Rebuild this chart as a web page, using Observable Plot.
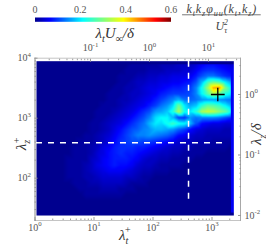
<!DOCTYPE html>
<html><head><meta charset="utf-8">
<script src="https://cdn.jsdelivr.net/npm/d3@7"></script>
<script src="https://cdn.jsdelivr.net/npm/@observablehq/plot@0.6"></script>
<style>html,body{margin:0;padding:0;background:#fff;width:266px;height:248px;overflow:hidden}
#c{position:relative;width:266px;height:248px}#c svg{position:absolute;left:0;top:0;background:transparent;overflow:visible}</style>
</head><body><div id="c"></div>
<script>
// energy map, hundredths, top row first, log-spaced columns
const gridCols = 34;
const r00=[0,0,0,0,0,0,0,0,0,0,0,0,0,0,0,0,1,1,1,1,1,2,2,2,3,3,3,4,6,7,7,6,5,4];
const r01=[0,0,0,0,0,0,0,0,0,0,0,0,0,0,0,1,1,1,1,2,2,2,3,3,3,4,4,6,8,9,9,8,7,6];
const r02=[0,0,0,0,0,0,0,0,0,0,0,0,0,0,1,1,1,2,2,3,3,4,4,5,5,5,6,8,11,13,13,11,9,8];
const r03=[0,0,0,0,0,0,0,0,0,0,0,0,0,0,1,1,2,3,3,4,4,5,5,6,6,7,8,11,17,25,28,26,20,16];
const r04=[0,0,0,0,0,0,0,0,0,0,0,0,0,1,1,2,2,3,4,5,5,6,7,8,8,9,10,14,22,32,44,45,30,22];
const r05=[0,0,0,0,0,0,0,0,0,0,0,0,1,1,1,2,3,3,4,5,6,8,9,10,10,10,11,14,21,27,33,28,23,20];
const r06=[0,0,0,0,0,0,0,0,0,0,0,0,1,1,2,2,3,4,5,6,8,10,12,14,17,13,12,13,15,16,16,15,14,13];
const r07=[0,0,0,0,0,0,0,0,0,0,0,1,1,1,2,3,4,5,6,8,10,13,15,19,29,20,16,18,24,28,27,25,21,17];
const r08=[0,0,0,0,0,0,0,0,0,0,1,1,1,2,3,4,5,7,9,11,15,16,18,23,33,22,20,24,33,35,34,31,28,22];
const r09=[0,0,0,0,0,0,0,0,0,0,1,1,2,3,4,5,7,9,11,14,19,21,21,17,10,9,15,13,14,14,14,13,11,9];
const r10=[0,0,0,0,0,0,0,0,0,1,1,2,3,4,5,7,9,11,13,17,20,19,22,25,22,21,17,11,7,6,5,5,4,4];
const r11=[0,0,0,0,0,0,0,0,0,1,1,2,3,5,7,9,11,12,14,15,17,17,16,15,12,10,7,5,4,3,3,3,2,2];
const r12=[0,0,0,0,0,0,0,0,1,1,2,3,4,6,8,10,12,14,14,15,14,13,12,10,7,6,4,3,3,2,2,2,2,2];
const r13=[0,0,0,0,0,0,0,1,1,1,2,3,5,7,9,10,11,11,10,10,9,8,7,6,4,3,3,2,2,2,1,1,1,1];
const r14=[0,0,0,0,0,0,1,1,1,2,3,5,6,8,9,9,9,8,8,7,6,5,4,3,3,2,2,1,1,1,1,1,1,0];
const r15=[0,0,0,0,0,0,1,1,1,2,4,5,7,8,9,8,8,7,6,5,4,3,3,2,2,1,1,1,1,0,0,0,0,0];
const r16=[0,0,0,0,0,1,1,1,1,3,4,6,7,8,8,8,7,6,4,3,3,2,2,1,1,1,1,0,0,0,0,0,0,0];
const r17=[0,0,0,0,0,1,1,1,2,3,5,6,7,8,7,7,6,4,3,3,2,1,1,1,1,0,0,0,0,0,0,0,0,0];
const r18=[0,0,0,0,0,1,1,1,2,3,4,5,6,6,6,5,4,3,2,2,1,1,1,0,0,0,0,0,0,0,0,0,0,0];
const r19=[0,0,0,0,0,1,1,1,2,2,3,4,4,4,4,3,3,2,1,1,0,0,0,0,0,0,0,0,0,0,0,0,0,0];
const r20=[0,0,0,0,0,0,1,1,1,2,2,3,3,3,3,2,1,1,1,0,0,0,0,0,0,0,0,0,0,0,0,0,0,0];
const r21=[0,0,0,0,0,0,0,1,1,1,1,2,2,2,1,1,1,0,0,0,0,0,0,0,0,0,0,0,0,0,0,0,0,0];
const r22=[0,0,0,0,0,0,0,0,1,1,1,1,1,1,1,0,0,0,0,0,0,0,0,0,0,0,0,0,0,0,0,0,0,0];
const r23=new Array(gridCols).fill(0), r24=r23, r25=r23;
const rows=[r00,r01,r02,r03,r04,r05,r06,r07,r08,r09,r10,r11,r12,r13,r14,r15,r16,r17,r18,r19,r20,r21,r22,r23,r24,r25];

const xMajor=[1,10,100,1000], yMajor=[100,1000,10000];
const xMinor=[2,3,4,5,6,7,8,9,20,30,40,50,60,70,80,90,200,300,400,500,600,700,800,900,2000];
const yMinor=[20,30,40,50,60,70,80,90,200,300,400,500,600,700,800,900,2000,3000,4000,5000,6000,7000,8000,9000];
const topMajor=[0.1,1,10], rightMajor=[0.01,0.1,1];
const topMinor=[0.02,0.03,0.04,0.05,0.06,0.07,0.08,0.09,0.2,0.3,0.4,0.5,0.6,0.7,0.8,0.9,2,3,4,5,6,7,8,9,20,30];
const rightMinor=[0.02,0.03,0.04,0.05,0.06,0.07,0.08,0.09,0.2,0.3,0.4,0.5,0.6,0.7,0.8,0.9,2,3];
const barTicks=[0,0.2,0.4,0.6];
const crossX=400, crossY=390, peak=[{x:1254,y:2483}];
const jetStops=[0,0.066,0.21,0.39,0.534,0.6];
const jetColors=["#00008f","#0000ff","#00ffff","#ffff00","#ff0000","#7f0000"];

const serif="'Liberation Serif','DejaVu Serif',serif", ink="#555", tickInk="#999";
const P=10**3.483, Yb=10**1.295;
const lx0=0.025, lx1=3.37, ly0=3.95, ly1=1.378;
const samples=rows.flatMap((row,j)=>row.map((v,i)=>({
  x:10**(lx0+(i+0.5)/gridCols*(lx1-lx0)),
  y:10**(ly0+(j+0.5)/rows.length*(ly1-ly0)),
  v:v/100})));
const margins={width:266,height:248,marginLeft:34.5,marginRight:26,marginTop:57.7,marginBottom:28};
const color={type:"linear",domain:jetStops,range:jetColors,clamp:true};
const expo=d=>`10^{${Math.round(Math.log10(d))}}`;
const tickStyle={stroke:tickInk,text:null,tickSize:-3,label:null};
const textStyle={tickSize:0,label:null,fontFamily:serif,fontSize:10,color:ink,fill:ink,tickFormat:expo};
const labelStyle={text:d=>d,fontFamily:serif,fontStyle:"italic",fontSize:15,fill:"#333"};

const main=Plot.plot({...margins,style:{background:"transparent"},color,
 x:{type:"log",domain:[1,P],axis:null},y:{type:"log",domain:[Yb,1e4],axis:null},
 marks:[
  Plot.raster(samples,{x:"x",y:"y",fill:"v",x1:10**lx0,x2:10**lx1,y1:10**ly0,y2:10**ly1,interpolate:"barycentric",pixelSize:1}),
  Plot.frame({anchor:"top",stroke:"#c4c4c4"}),Plot.frame({anchor:"bottom",stroke:"#c4c4c4"}),
  Plot.frame({anchor:"left",stroke:"#8a8a8a"}),Plot.frame({anchor:"right",stroke:"#a8a8a8"}),
  Plot.axisX(xMinor,{...tickStyle,anchor:"bottom",tickSize:-1.5}),
  Plot.axisX(xMajor,{...tickStyle,anchor:"bottom"}),
  Plot.axisY(yMinor,{...tickStyle,anchor:"left",tickSize:-1.5}),
  Plot.axisY(yMajor,{...tickStyle,anchor:"left"}),
  Plot.axisX(xMajor,{...textStyle,anchor:"bottom",tickPadding:3}),
  Plot.axisY(yMajor,{...textStyle,anchor:"left",tickPadding:4}),
  Plot.ruleX([crossX],{y1:10**3.95,y2:10**1.6,stroke:"#fff",strokeWidth:1.5,strokeDasharray:"6,6"}),
  Plot.ruleY([crossY],{x1:10**0.025,x2:10**3.23,stroke:"#fff",strokeWidth:1.5,strokeDasharray:"6,6"}),
  Plot.dot(peak,{x:"x",y:"y",symbol:"plus",r:4.5,stroke:"#000",strokeWidth:1.3}),
  Plot.text(["λ_{t}^{+}"],{...labelStyle,frameAnchor:"bottom-left",dx:84,dy:19,textAnchor:"start"}),
  Plot.text(["λ_{z}^{+}"],{...labelStyle,frameAnchor:"left",dx:-14,dy:11,rotate:-90})
 ]});

const over=Plot.plot({...margins,style:{background:"transparent"},
 x:{type:"log",domain:[10**-1.94,10**1.543],axis:null},y:{type:"log",domain:[10**-2.083,10**0.6],axis:null},
 marks:[
  Plot.axisX(topMinor,{...tickStyle,anchor:"top",tickSize:-1.5}),
  Plot.axisX(topMajor,{...tickStyle,anchor:"top"}),
  Plot.axisY(rightMinor,{...tickStyle,anchor:"right",tickSize:-1.5}),
  Plot.axisY(rightMajor,{...tickStyle,anchor:"right"}),
  Plot.axisX(topMajor,{...textStyle,anchor:"top",tickPadding:7}),
  Plot.axisY(rightMajor,{...textStyle,anchor:"right",tickPadding:4}),
  Plot.text(["λ_{t}U_{∞}/δ"],{...labelStyle,frameAnchor:"top",dx:-23,dy:-31}),
  Plot.text(["λ_{z}/δ"],{...labelStyle,frameAnchor:"right",dx:16,dy:-16,rotate:-90})
 ]});

const barValues=d3.range(256).map(i=>i/255*0.6);
const fracStyle={text:d=>d,fontFamily:serif,fontStyle:"italic",fontSize:12,fill:"#444"};
const bar=Plot.plot({width:266,height:248,marginLeft:34.5,marginRight:95.5,marginTop:17,marginBottom:226.7,
 style:{background:"transparent"},color,
 x:{domain:[0,0.6],axis:null},y:{domain:[0,1],axis:null},
 marks:[
  Plot.raster(barValues,{width:256,height:1,x1:0,x2:0.6,y1:0,y2:1,fill:d=>d,imageRendering:"auto"}),
  Plot.axisX(barTicks,{anchor:"top",tickSize:0,tickPadding:5,label:null,fontFamily:serif,fontSize:10,fill:ink,tickFormat:d=>d===0?"0":String(d)}),
  Plot.ruleY([1.63],{x1:0.651,x2:0.998,stroke:"#555",strokeWidth:0.8}),
  Plot.text(["k_{t}k_{z}φ_{uu}(k_{t},k_{z})"],{...fracStyle,x:0.824,y:3.0}),
  Plot.text(["U_{τ}^{2}"],{...fracStyle,x:0.824,y:-0.95})
 ]});

const host=document.getElementById("c");
[main,over,bar].forEach(s=>host.appendChild(s));

function renderMath(el){
  const s=el.textContent;
  if(!/[\^_]\{/.test(s)) return;
  const fs=parseFloat(getComputedStyle(el).fontSize)||10;
  el.textContent="";
  let shift=0,prev=null;
  s.split(/([\^_]\{[^}]*\})/).forEach(p=>{
    if(!p) return;
    const m=p.match(/^([\^_])\{(.*)\}$/);
    const t=document.createElementNS("http://www.w3.org/2000/svg","tspan");
    const target=m?(m[1]==="^"?-0.42:0.28)*fs:0;
    t.setAttribute("dy",(target-shift).toFixed(2));
    if(m){t.setAttribute("font-size",(fs*0.68).toFixed(1));if(prev==="_"&&m[1]==="^")t.setAttribute("dx",(-0.28*fs).toFixed(2));}
    t.textContent=m?m[2]:p;
    el.appendChild(t);shift=target;prev=m?m[1]:null;
  });
  if(s.includes("φ")) el.style.letterSpacing="0.9px";
}
host.querySelectorAll("text").forEach(renderMath);
</script></body></html>
